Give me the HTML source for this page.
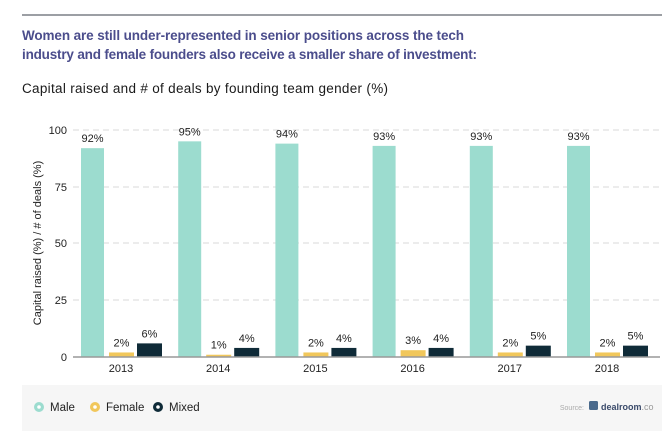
<!DOCTYPE html><html><head><style>body{margin:0;background:#fff;width:669px;height:440px;overflow:hidden;font-family:"Liberation Sans",sans-serif}</style></head><body>
<svg width="669" height="440" xmlns="http://www.w3.org/2000/svg" font-family="Liberation Sans, sans-serif">
<line x1="22" y1="15" x2="662" y2="15" stroke="#3a3f4a" stroke-width="1"/>
<text x="22" y="40" font-size="13.5" font-weight="bold" fill="#4b4d8c" textLength="442">Women are still under-represented in senior positions across the tech</text>
<text x="22" y="59" font-size="13.5" font-weight="bold" fill="#4b4d8c" textLength="455">industry and female founders also receive a smaller share of investment:</text>
<text x="22" y="93" font-size="13.5" fill="#1a1a1a" textLength="366">Capital raised and # of deals by founding team gender (%)</text>
<g stroke="#d8d8d8" stroke-dasharray="6,4">
<line x1="73" y1="130" x2="660" y2="130"/><line x1="73" y1="187" x2="660" y2="187"/><line x1="73" y1="243" x2="660" y2="243"/><line x1="73" y1="300" x2="660" y2="300"/></g>
<g font-size="11" fill="#222" text-anchor="end"><text x="67" y="134">100</text><text x="67" y="191">75</text><text x="67" y="247">50</text><text x="67" y="304">25</text><text x="67" y="361">0</text></g>
<text transform="translate(41,243) rotate(-90)" font-size="11" fill="#222" text-anchor="middle">Capital raised (%) / # of deals (%)</text>
<g id="bars"></g>
<line x1="73" y1="357" x2="660" y2="357" stroke="#999" stroke-width="1.5"/>
<rect x="22" y="385" width="640" height="46" fill="#f6f6f6"/>
<circle cx="39" cy="407" r="5" fill="#9cdccf"/><circle cx="39" cy="407" r="1.8" fill="#fff"/>
<text x="50" y="411" font-size="11.5" fill="#222">Male</text>
<circle cx="95" cy="407" r="5" fill="#f1c75b"/><circle cx="95" cy="407" r="1.8" fill="#fff"/>
<text x="106" y="411" font-size="11.5" fill="#222">Female</text>
<circle cx="158" cy="407" r="5" fill="#0f2b38"/><circle cx="158" cy="407" r="1.8" fill="#fff"/>
<text x="169" y="411" font-size="11.5" fill="#222">Mixed</text>
<text x="584" y="410" font-size="7" fill="#aaa" text-anchor="end">Source:</text>
<rect x="589" y="401" width="9" height="9" rx="1.5" fill="#4a6a8c"/>
<text x="601" y="410" font-size="9" font-weight="bold" fill="#3a4a6a">dealroom<tspan font-weight="normal" fill="#999">.co</tspan></text>
</svg>
<script>
var d=[[2013,92,2,6],[2014,95,1,4],[2015,94,2,4],[2016,93,3,4],[2017,93,2,5],[2018,93,2,5]];
var g=document.getElementById('bars'),s='';
d.forEach(function(r,i){var x=81+i*97.2,y=function(v){return 357-v*2.27};
var c=['#9cdccf','#f1c75b','#0f2b38'],xs=[x,x+28,x+56],w=[23,25,25];
for(var k=0;k<3;k++){var v=r[k+1];s+='<rect x="'+xs[k]+'" y="'+y(v)+'" width="'+w[k]+'" height="'+(v*2.27)+'" fill="'+c[k]+'"/>';
s+='<text x="'+(xs[k]+w[k]/2)+'" y="'+(y(v)-6)+'" font-size="11" fill="#222" text-anchor="middle">'+v+'%</text>';}
s+='<text x="'+(x+40)+'" y="372" font-size="11" fill="#222" text-anchor="middle">'+r[0]+'</text>';});
g.innerHTML=s;
</script>
</body></html>
